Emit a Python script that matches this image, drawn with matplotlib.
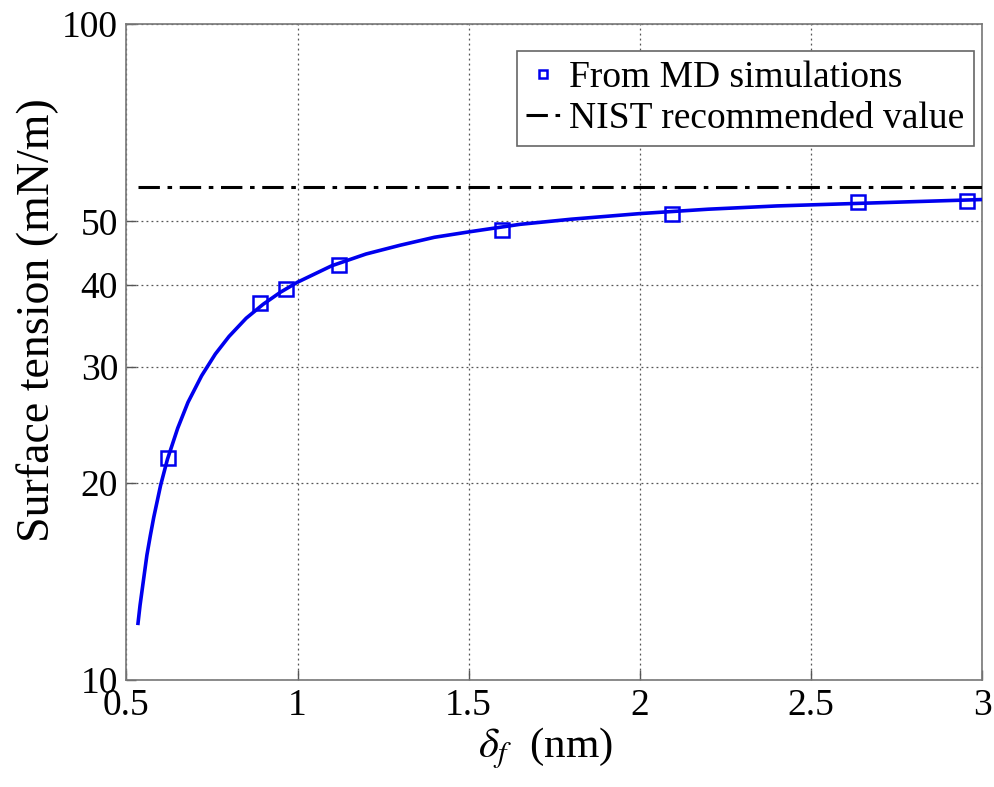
import matplotlib
matplotlib.use("Agg")
import matplotlib.pyplot as plt
from matplotlib.ticker import FixedLocator, FixedFormatter, NullLocator

plt.rcParams["font.family"] = ["Liberation Serif", "DejaVu Serif"]
plt.rcParams["mathtext.fontset"] = "stix"

# MD simulation results: film thickness (nm) vs surface tension (mN/m)
md_delta = [0.622, 0.889, 0.967, 1.122, 1.597, 2.094, 2.638, 2.956]
md_gamma = [21.8, 37.5, 39.5, 42.9, 48.6, 51.3, 53.5, 53.8]

# Fitted curve through the MD results
fit_delta = [0.534, 0.54, 0.55, 0.56, 0.57, 0.58, 0.60, 0.62, 0.65, 0.68,
             0.72, 0.76, 0.80, 0.85, 0.90, 0.95, 1.00, 1.10, 1.20, 1.30,
             1.40, 1.50, 1.65, 1.80, 2.00, 2.20, 2.40, 2.60, 2.80, 3.00]
fit_gamma = [12.2, 13.0, 14.2, 15.5, 16.6, 17.7, 19.8, 21.7, 24.2, 26.5,
             29.1, 31.4, 33.4, 35.6, 37.4, 39.0, 40.4, 42.8, 44.6, 46.0,
             47.3, 48.2, 49.5, 50.4, 51.4, 52.2, 52.8, 53.2, 53.6, 54.0]

# NIST recommended surface tension
nist_gamma = 56.4
nist_range = [0.534, 3.0]

x_ticks = [0.5, 1, 1.5, 2, 2.5, 3]
x_tick_labels = ["0.5", "1", "1.5", "2", "2.5", "3"]
y_ticks = [10, 20, 30, 40, 50, 100]
y_tick_labels = ["10", "20", "30", "40", "50", "100"]

fig = plt.figure(figsize=(9.95, 7.87), dpi=100)
ax = fig.add_axes([0.127, 0.136, 0.860, 0.8335])

ax.plot(fit_delta, fit_gamma, color="#0000ee", lw=2.6, zorder=3)
ax.plot(md_delta, md_gamma, linestyle="none", marker="s", markersize=9.5,
        markerfacecolor="none", markeredgecolor="#0000ee", markeredgewidth=1.8,
        zorder=4, label="From MD simulations")
ax.plot(nist_range, [nist_gamma, nist_gamma], color="black", lw=2.2,
        linestyle=(0, (7, 2.5, 1.5, 2.5)), zorder=3,
        label="NIST recommended value")

ax.set_yscale("log")
ax.set_xlim(0.5, 3)
ax.set_ylim(10, 100)
ax.xaxis.set_major_locator(FixedLocator(x_ticks))
ax.xaxis.set_major_formatter(FixedFormatter(x_tick_labels))
ax.yaxis.set_major_locator(FixedLocator(y_ticks))
ax.yaxis.set_major_formatter(FixedFormatter(y_tick_labels))
ax.yaxis.set_minor_locator(NullLocator())
ax.xaxis.set_minor_locator(NullLocator())

ax.tick_params(axis="both", direction="in", length=7, width=1,
               color="#555555", labelsize=27, pad=6, top=False, right=False)
for s in ax.spines.values():
    s.set_color("#777777")
    s.set_linewidth(1.2)

ax.grid(True, which="major", linestyle=(0, (1.5, 2.5)), color="#555555",
        linewidth=0.9)

ax.set_xlabel(r"$\delta_f$  (nm)", fontsize=31, labelpad=2)
ax.set_ylabel("Surface tension (mN/m)", fontsize=33, labelpad=2)
ax.yaxis.label.set_y(0.549)
ax.xaxis.label.set_x(0.49)

leg = ax.legend(loc="upper right", bbox_to_anchor=(0.9906, 0.9588),
                fontsize=27, frameon=True, fancybox=False,
                edgecolor="#666666", framealpha=1, handlelength=0.9,
                handletextpad=0.25, borderpad=0.25, labelspacing=0.18,
                borderaxespad=0.0, markerscale=0.6)
leg.get_frame().set_linewidth(1.2)

fig.savefig("out.png", dpi=100)
